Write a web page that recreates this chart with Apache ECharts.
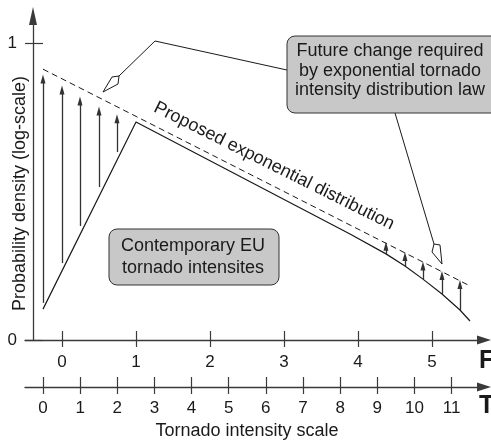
<!DOCTYPE html>
<html>
<head>
<meta charset="utf-8">
<script src="https://cdn.jsdelivr.net/npm/echarts@6/dist/echarts.min.js"></script>
<style>
  html, body { margin: 0; padding: 0; background: #fff; }
  #chart { width: 491px; height: 443px; }
</style>
</head>
<body>
<div id="chart"></div>
<script>
// tick labels of the two intensity scales and the y axis
const fTicks = [0, 1, 2, 3, 4, 5];
const tTicks = [0, 1, 2, 3, 4, 5, 6, 7, 8, 9, 10, 11];
const yTicks = [0, 1];

// contemporary EU tornado intensities (x in F units, y in log density 0..1)
const contempF = [-0.257, 1.0, 3.892, 4.378, 4.635, 4.878, 5.135, 5.378, 5.514];
const contempV = [0.104, 0.734, 0.357, 0.290, 0.249, 0.205, 0.155, 0.101, 0.064];

// proposed exponential distribution (straight line on log scale)
const expF = [-0.257, 5.514];
const expV = [0.912, 0.182];

// vertical "required change" arrows
const arrowF = [-0.257, 0, 0.243, 0.5, 0.743, 4.378, 4.635, 4.878, 5.135, 5.378];
const arrowFrom = [0.125, 0.259, 0.384, 0.515, 0.633, 0.290, 0.249, 0.205, 0.155, 0.101];
const arrowTo = [0.879, 0.842, 0.805, 0.771, 0.745, 0.316, 0.281, 0.249, 0.217, 0.187];

const FONT = '"Liberation Sans", Arial, sans-serif';
const INK = '#1a1a1a';
const AXIS = '#3a3a3a';

const zip = (a, b) => a.map((v, i) => [v, b[i]]);

const chart = echarts.init(document.getElementById('chart'));

const fMin = -0.5, fMax = 5.703;
const tMin = -0.4847, tMax = 11.874;
const yMax = 1.091;

const tickStyle = { color: AXIS, width: 1.2 };
const lineOn = { show: true, onZero: false, lineStyle: { color: AXIS, width: 1.3 }, symbol: ['none', 'triangle'] };

const option = {
  animation: false,
  backgroundColor: '#fff',
  textStyle: { fontFamily: FONT },
  grid: { left: 25, right: 7, top: 16, bottom: 103, outerBoundsMode: 'none' },
  xAxis: [
    {
      // F scale, ticks below + labels
      type: 'value', min: fMin, max: fMax, position: 'bottom',
      axisLine: Object.assign({}, lineOn, { symbolSize: [9, 14] }),
      axisTick: { show: true, length: 7, customValues: fTicks, lineStyle: tickStyle },
      axisLabel: { customValues: fTicks, margin: 14, fontSize: 17, color: INK, fontFamily: FONT },
      splitLine: { show: false }
    },
    {
      // T scale
      type: 'value', min: tMin, max: tMax, offset: 47, position: 'bottom',
      axisLine: Object.assign({}, lineOn, { symbolSize: [9, 14] }),
      axisTick: { show: true, length: 7, customValues: tTicks, lineStyle: tickStyle },
      axisLabel: { customValues: tTicks, margin: 13, fontSize: 17, color: INK, fontFamily: FONT },
      name: 'Tornado intensity scale', nameLocation: 'middle', nameGap: 35, nameMoveOverlap: false,
      nameTextStyle: { fontSize: 18, color: INK, fontFamily: FONT, padding: [0, 15, 0, 0] },
      splitLine: { show: false }
    },
    {
      // F scale, ticks above
      type: 'value', min: fMin, max: fMax, position: 'bottom',
      axisLine: { show: false, onZero: false },
      axisTick: { show: true, inside: true, length: 9, customValues: fTicks, lineStyle: tickStyle },
      axisLabel: { show: false }, splitLine: { show: false }
    },
    {
      // T scale, ticks above
      type: 'value', min: tMin, max: tMax, offset: 47, position: 'bottom',
      axisLine: { show: false, onZero: false },
      axisTick: { show: true, inside: true, length: 10, customValues: tTicks, lineStyle: tickStyle },
      axisLabel: { show: false }, splitLine: { show: false }
    }
  ],
  yAxis: [
    {
      type: 'value', min: 0, max: yMax, offset: -8, position: 'left',
      axisLine: Object.assign({}, lineOn, { symbolSize: [8, 18] }),
      axisTick: { show: true, length: 8, customValues: yTicks, lineStyle: tickStyle },
      axisLabel: { customValues: yTicks, margin: 16, fontSize: 17, color: INK, fontFamily: FONT },
      name: 'Probability density (log-scale)', nameLocation: 'middle', nameGap: 4, nameMoveOverlap: false,
      nameTextStyle: { fontSize: 18, color: INK, fontFamily: FONT, padding: [0, 31, 0, 0] },
      splitLine: { show: false }
    },
    {
      type: 'value', min: 0, max: yMax, offset: -8, position: 'left',
      axisLine: { show: false, onZero: false },
      axisTick: { show: true, inside: true, length: 10, customValues: yTicks, lineStyle: tickStyle },
      axisLabel: { show: false }, splitLine: { show: false }
    }
  ],
  series: [
    {
      name: 'Contemporary EU tornado intensities',
      type: 'line', xAxisIndex: 0, yAxisIndex: 0,
      data: zip(contempF, contempV),
      symbol: 'none', silent: true,
      lineStyle: { color: INK, width: 1.2 },
      markLine: {
        silent: true,
        symbol: ['none', 'triangle'],
        symbolSize: [5, 9],
        label: { show: false },
        lineStyle: { color: '#333', width: 1.3, type: 'solid' },
        data: arrowF.map((f, i) => [{ coord: [f, arrowFrom[i]] }, { coord: [f, arrowTo[i]] }])
      }
    },
    {
      name: 'Proposed exponential distribution',
      type: 'line', xAxisIndex: 0, yAxisIndex: 0,
      data: zip(expF, expV),
      symbol: 'none', silent: true,
      lineStyle: { color: INK, width: 1, type: [6, 4] }
    }
  ],
  graphic: [
    // upper callout
    { type: 'polyline', shape: { points: [[287, 70], [155, 41], [119, 76]] }, style: { stroke: INK, lineWidth: 1, fill: null } },
    { type: 'polygon', shape: { points: [[119, 76], [112, 77], [103, 92], [118, 84]] }, style: { stroke: INK, lineWidth: 1, fill: '#fff' } },
    { type: 'polyline', shape: { points: [[395, 113], [434, 244]] }, style: { stroke: INK, lineWidth: 1, fill: null } },
    { type: 'polygon', shape: { points: [[434, 244], [432, 252], [442, 264], [440, 245]] }, style: { stroke: INK, lineWidth: 1, fill: '#fff' } },
    { type: 'rect', shape: { x: 287, y: 36, width: 230, height: 77, r: 8 }, style: { fill: '#c8c8c8', stroke: '#333', lineWidth: 1 } },
    {
      type: 'text', x: 390, y: 71,
      style: { text: 'Future change required\nby exponential tornado\nintensity distribution law', fontSize: 18, fontFamily: FONT, fill: INK, align: 'center', verticalAlign: 'middle', lineHeight: 19.5 }
    },
    // lower callout
    { type: 'rect', shape: { x: 109, y: 229, width: 170, height: 56, r: 8 }, style: { fill: '#c8c8c8', stroke: '#333', lineWidth: 1 } },
    {
      type: 'text', x: 193, y: 257.5,
      style: { text: 'Contemporary EU\ntornado intensites', fontSize: 18, fontFamily: FONT, fill: INK, align: 'center', verticalAlign: 'middle', lineHeight: 22 }
    },
    // label along the dashed line
    {
      type: 'text', x: 274, y: 166, rotation: -26.5 * Math.PI / 180,
      style: { text: 'Proposed exponential distribution', fontSize: 18, fontFamily: FONT, fill: INK, align: 'center', verticalAlign: 'middle' }
    },
    // scale letters
    { type: 'text', x: 479, y: 361, style: { text: 'F', fontSize: 25, fontWeight: 'bold', fontFamily: FONT, fill: INK, align: 'left', verticalAlign: 'middle' } },
    { type: 'text', x: 479, y: 406, style: { text: 'T', fontSize: 25, fontWeight: 'bold', fontFamily: FONT, fill: INK, align: 'left', verticalAlign: 'middle' } }
  ]
};

chart.setOption(option);
</script>
</body>
</html>
